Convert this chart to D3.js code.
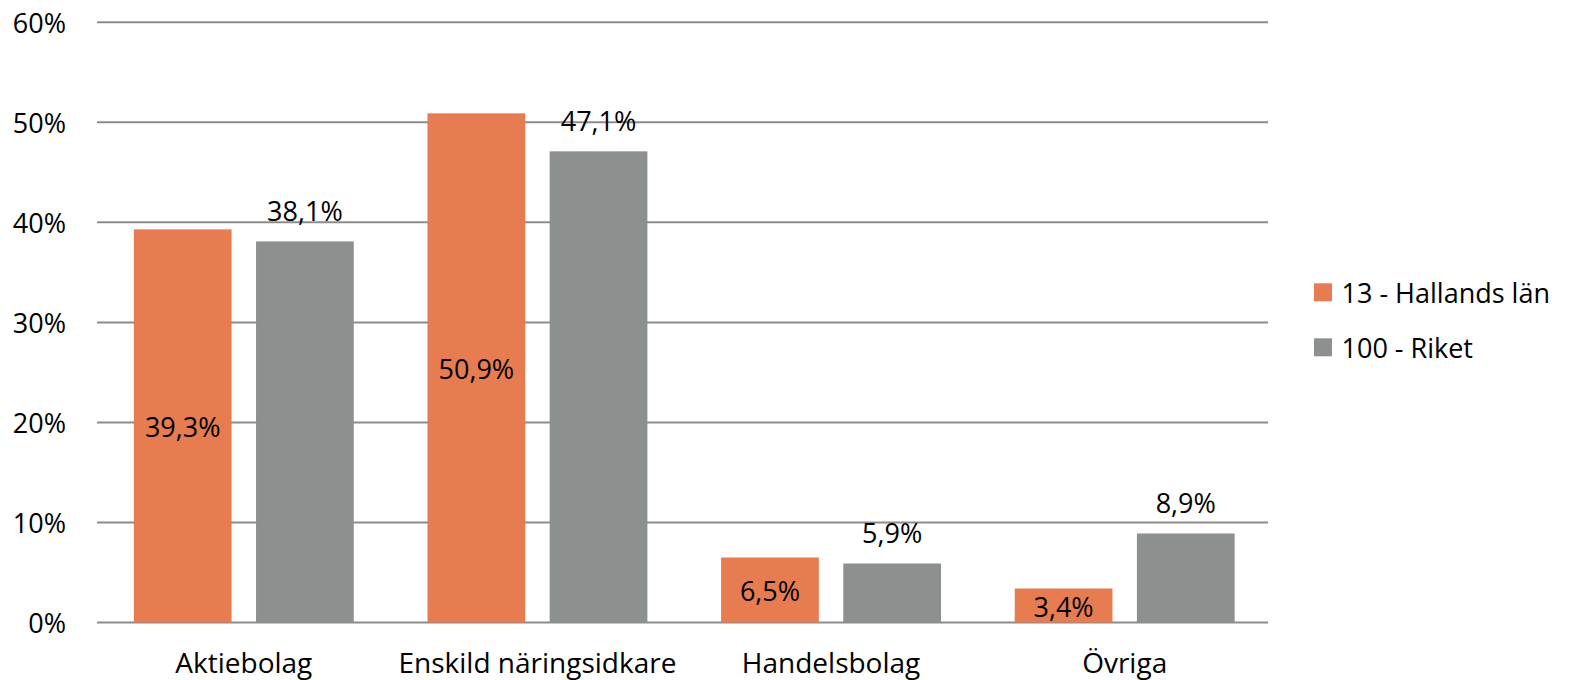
<!DOCTYPE html>
<html><head><meta charset="utf-8">
<script src="https://cdn.jsdelivr.net/npm/d3@7"></script>
<style>
html,body{margin:0;padding:0;background:#fff;}
text{font-family:"Open Sans",sans-serif;fill:#000;}
</style></head>
<body>
<svg id="chart" width="1571" height="680"></svg>
<script>
const categories = ["Aktiebolag", "Enskild näringsidkare", "Handelsbolag", "Övriga"];
const seriesNames = ["13 - Hallands län", "100 - Riket"];
const halland = [39.3, 50.9, 6.5, 3.4];
const riket = [38.1, 47.1, 5.9, 8.9];
const yTicks = [0, 10, 20, 30, 40, 50, 60];
const colors = ["#E67C50", "#8C908E"];

(function () {
const seriesValues = [halland, riket];
const svg = d3.select("#chart");
const fs = 27;
const pLeft = 97, pRight = 1271.5, pTop = 22.3, pBottom = 622.5;

const x0 = d3.scaleBand().domain(categories).range([pLeft, pRight]).paddingInner(0.251).paddingOuter(0.1255);
const x1 = d3.scaleBand().domain(seriesNames).range([0, x0.bandwidth()]).paddingInner(0.2).paddingOuter(0);
const y = d3.scaleLinear().domain([0, 60]).range([pBottom, pTop]);

// gridlines
svg.append("g").selectAll("line").data(yTicks).join("line")
  .attr("x1", pLeft).attr("x2", 1268)
  .attr("y1", d => y(d)).attr("y2", d => y(d))
  .attr("stroke", "#8C8C8C").attr("stroke-width", 2);

// y labels
svg.append("g").selectAll("text").data(yTicks).join("text")
  .attr("x", 66).attr("y", d => y(d))
  .attr("text-anchor", "end").attr("dominant-baseline", "central")
  .style("font-size", fs + "px")
  .text(d => d + "%");

// bars
const fmt = v => v.toFixed(1).replace(".", ",") + "%";
seriesNames.forEach((s, si) => {
  const g = svg.append("g");
  g.selectAll("rect").data(categories).join("rect")
    .attr("x", c => x0(c) + x1(s))
    .attr("width", x1.bandwidth())
    .attr("y", (c, i) => y(seriesValues[si][i]))
    .attr("height", (c, i) => y(0) - y(seriesValues[si][i]))
    .attr("fill", colors[si]);
  g.selectAll("text").data(categories).join("text")
    .attr("x", c => x0(c) + x1(s) + x1.bandwidth() / 2)
    .attr("y", (c, i) => si === 0 ? (y(seriesValues[si][i]) + y(0)) / 2 + 1 : y(seriesValues[si][i]) - 20)
    .attr("dominant-baseline", si === 0 ? "central" : "auto")
    .attr("text-anchor", "middle")
    .style("font-size", fs + "px")
    .text((c, i) => fmt(seriesValues[si][i]));
});

// category labels
svg.append("g").selectAll("text").data(categories).join("text")
  .attr("x", c => x0(c) + x0.bandwidth() / 2)
  .attr("y", 673)
  .attr("text-anchor", "middle")
  .style("font-size", "28px")
  .text(c => c);

// legend
const lg = svg.append("g");
seriesNames.forEach((s, i) => {
  const yy = 283.3 + i * 55;
  lg.append("rect").attr("x", 1314).attr("y", yy).attr("width", 18).attr("height", 18).attr("fill", colors[i]);
  lg.append("text").attr("x", 1341.5).attr("y", yy + 9).attr("dominant-baseline", "central")
    .style("font-size", fs + "px").text(s);
});
})();
</script>
</body></html>
